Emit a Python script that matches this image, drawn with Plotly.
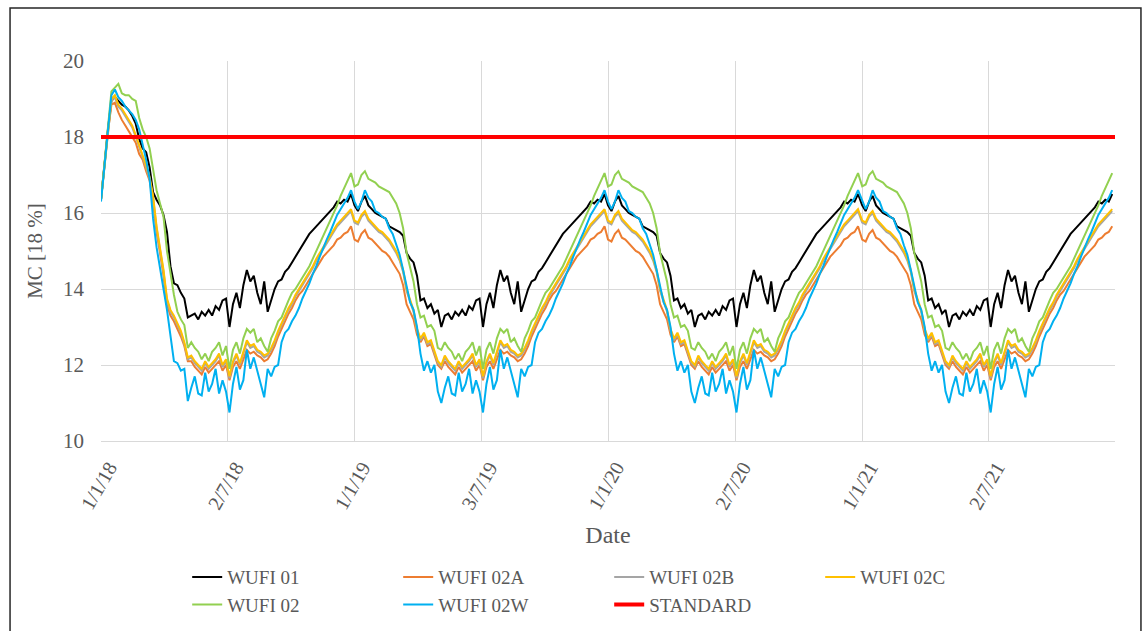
import pandas as pd
import plotly.graph_objects as go

# Moisture content (MC, %) sampled every 5 days through each year.
STEP_DAYS = 5
YEARS = [2018, 2019, 2020, 2021]

# Start-up period of 2018 (day 0 .. day 125), before the yearly cycle settles.
W01_2018_START = [16.35, 17.3, 18.2, 18.95, 19.05, 18.95, 18.85, 18.8, 18.7, 18.55,
                  18.35, 17.95, 17.7, 17.6, 17.2, 16.55, 16.35, 16.2, 15.95, 15.5,
                  14.6, 14.15, 14.1, 13.9, 13.75, 13.25]
W02A_2018_START = [16.35, 17.25, 18.15, 18.85, 18.9, 18.65, 18.45, 18.3, 18.15, 18.0,
                   17.85, 17.55, 17.4, 17.1, 16.85, 16.3, 15.5, 14.95, 14.35, 13.6,
                   13.3, 13.15, 12.95, 12.75, 12.5, 12.1]
W02B_2018_START = [16.35, 17.25, 18.2, 18.95, 19.05, 18.8, 18.7, 18.55, 18.4, 18.25,
                   18.0, 17.75, 17.5, 17.2, 16.9, 16.4, 15.6, 15.05, 14.45, 13.7,
                   13.4, 13.25, 13.05, 12.85, 12.55, 12.15]
W02C_2018_START = [16.35, 17.3, 18.25, 19.0, 19.1, 18.85, 18.75, 18.6, 18.45, 18.3,
                   18.05, 17.8, 17.55, 17.25, 16.95, 16.45, 15.65, 15.1, 14.5, 13.75,
                   13.45, 13.3, 13.1, 12.9, 12.6, 12.2]
W02_2018_START = [16.35, 17.35, 18.4, 19.2, 19.3, 19.4, 19.15, 19.1, 19.1, 19.0,
                  18.95, 18.5, 18.2, 18.0, 17.7, 17.2, 16.6, 16.25, 15.9, 15.0,
                  14.4, 13.85, 13.4, 13.2, 13.05, 12.45]
W02W_2018_START = [16.3, 17.3, 18.3, 19.1, 19.25, 19.05, 18.95, 18.8, 18.7, 18.6,
                   18.45, 18.2, 17.8, 17.4, 16.9, 15.85, 15.1, 14.5, 14.0, 13.45,
                   12.75, 12.1, 12.05, 11.85, 11.9, 11.05]

# Repeating yearly cycle (day 0 .. day 360 of each year).
W01_YEAR = [16.2, 16.05, 16.3, 16.45, 16.2, 16.1, 16.0, 15.95, 15.9, 15.85,
            15.65, 15.6, 15.55, 15.5, 15.4, 14.95, 14.8, 14.7, 14.35, 13.7,
            13.75, 13.5, 13.6, 13.35, 13.45, 13.0, 13.3, 13.35, 13.2, 13.4,
            13.3, 13.45, 13.3, 13.55, 13.45, 13.7, 13.75, 13.0, 13.6, 13.9,
            13.5, 14.1, 14.5, 14.2, 14.35, 13.9, 13.6, 14.2, 13.4, 13.7,
            14.0, 14.2, 14.25, 14.45, 14.55, 14.7, 14.85, 15.0, 15.15, 15.3,
            15.45, 15.55, 15.65, 15.75, 15.85, 15.95, 16.05, 16.15, 16.3, 16.25,
            16.35, 16.3, 16.5]
W02A_YEAR = [15.3, 15.25, 15.45, 15.55, 15.35, 15.3, 15.2, 15.1, 15.0, 14.95,
             14.85, 14.7, 14.55, 14.4, 14.1, 13.6, 13.4, 13.2, 12.8, 12.6,
             12.75, 12.5, 12.55, 12.3, 12.0, 11.9, 12.1, 11.95, 11.85, 11.75,
             11.95, 11.8, 11.9, 12.0, 12.1, 11.85, 12.0, 11.6, 11.95, 12.1,
             11.9, 12.15, 12.4, 12.3, 12.35, 12.25, 12.2, 12.1, 12.15, 12.3,
             12.5, 12.75, 12.95, 13.15, 13.35, 13.5, 13.7, 13.85, 13.95, 14.1,
             14.25, 14.4, 14.55, 14.7, 14.85, 14.95, 15.05, 15.15, 15.3, 15.35,
             15.45, 15.5, 15.65]
W02B_YEAR = [15.75, 15.7, 15.9, 16.0, 15.8, 15.7, 15.6, 15.5, 15.45, 15.35,
             15.25, 15.1, 14.95, 14.75, 14.45, 13.95, 13.65, 13.4, 12.9, 12.65,
             12.8, 12.55, 12.6, 12.35, 12.05, 11.95, 12.2, 12.05, 11.95, 11.85,
             12.05, 11.9, 12.0, 12.1, 12.25, 11.95, 12.1, 11.65, 12.05, 12.25,
             12.0, 12.3, 12.6, 12.45, 12.5, 12.35, 12.3, 12.2, 12.25, 12.4,
             12.6, 12.85, 13.05, 13.25, 13.45, 13.6, 13.8, 13.95, 14.1, 14.25,
             14.4, 14.55, 14.75, 14.9, 15.05, 15.2, 15.35, 15.5, 15.65, 15.75,
             15.85, 15.95, 16.05]
W02C_YEAR = [15.8, 15.75, 15.95, 16.05, 15.85, 15.75, 15.65, 15.55, 15.5, 15.4,
             15.3, 15.15, 15.0, 14.8, 14.5, 14.0, 13.7, 13.45, 12.95, 12.7,
             12.85, 12.6, 12.65, 12.4, 12.1, 12.0, 12.25, 12.1, 12.0, 11.9,
             12.1, 11.95, 12.05, 12.15, 12.3, 12.0, 12.15, 11.7, 12.1, 12.3,
             12.05, 12.35, 12.65, 12.5, 12.55, 12.4, 12.35, 12.25, 12.3, 12.45,
             12.65, 12.9, 13.1, 13.3, 13.5, 13.65, 13.85, 14.0, 14.15, 14.3,
             14.45, 14.6, 14.8, 14.95, 15.1, 15.25, 15.4, 15.55, 15.7, 15.8,
             15.9, 16.0, 16.1]
W02_YEAR = [16.7, 16.75, 17.0, 17.1, 16.9, 16.85, 16.8, 16.7, 16.65, 16.6,
            16.55, 16.4, 16.25, 16.0, 15.6, 14.95, 14.6, 14.2, 13.6, 13.25,
            13.3, 13.0, 13.05, 12.9, 12.45, 12.4, 12.6, 12.45, 12.35, 12.15,
            12.3, 12.1, 12.35, 12.45, 12.6, 12.25, 12.5, 11.9, 12.4, 12.6,
            12.3, 12.7, 12.95, 12.85, 12.95, 12.6, 12.7, 12.5, 12.35, 12.7,
            12.9, 13.15, 13.25, 13.5, 13.7, 13.9, 14.0, 14.15, 14.3, 14.45,
            14.6, 14.8, 15.0, 15.2, 15.4, 15.6, 15.8, 16.0, 16.2, 16.45,
            16.65, 16.85, 17.05]
W02W_YEAR = [16.3, 16.1, 16.3, 16.6, 16.4, 16.3, 16.05, 16.0, 15.9, 15.85,
             15.6, 15.45, 15.15, 14.9, 14.5, 14.1, 13.65, 13.45, 13.0, 12.3,
             11.85, 12.1, 11.8, 12.0, 11.3, 11.0, 11.4, 11.7, 11.25, 11.2,
             11.8, 11.3, 11.5, 11.9, 11.25, 11.6, 11.3, 10.75, 11.5, 11.95,
             11.35, 11.6, 12.4, 11.9, 12.2, 11.85, 11.5, 11.15, 11.9, 11.7,
             11.95, 12.0, 12.6, 12.85, 12.95, 13.15, 13.3, 13.5, 13.75, 13.95,
             14.15, 14.4, 14.6, 14.85, 15.1, 15.3, 15.5, 15.75, 15.95, 16.1,
             16.25, 16.4, 16.6]

STANDARD_DATES = ["2018-01-01", "2021-12-31"]
STANDARD_MC = [18, 18]

TICK_LABELS = ["1/1/18", "2/7/18", "1/1/19", "3/7/19", "1/1/20", "2/7/20", "1/1/21", "2/7/21"]
TICK_SPACING_DAYS = 182.625

SERIES = [
    ("WUFI 01", W01_2018_START, W01_YEAR, "#000000"),
    ("WUFI 02A", W02A_2018_START, W02A_YEAR, "#ED7D31"),
    ("WUFI 02B", W02B_2018_START, W02B_YEAR, "#A5A5A5"),
    ("WUFI 02C", W02C_2018_START, W02C_YEAR, "#FFC000"),
    ("WUFI 02", W02_2018_START, W02_YEAR, "#92D050"),
    ("WUFI 02W", W02W_2018_START, W02W_YEAR, "#00B0F0"),
]


def year_dates(year, n):
    start = pd.Timestamp(year=year, month=1, day=1)
    return [start + pd.Timedelta(days=STEP_DAYS * i) for i in range(n)]


def build_series(start_2018, cycle):
    values = start_2018 + cycle[len(start_2018):]
    for _ in YEARS[1:]:
        values = values + cycle
    return values


dates = []
for y in YEARS:
    dates += year_dates(y, len(W01_YEAR))

FONT = "Liberation Serif"
TEXT = "#595959"
GRID = "#D9D9D9"

fig = go.Figure()
for name, start, cycle, color in SERIES:
    fig.add_trace(go.Scatter(x=dates, y=build_series(start, cycle), name=name, mode="lines",
                             line=dict(color=color, width=2)))
fig.add_trace(go.Scatter(x=STANDARD_DATES, y=STANDARD_MC, name="STANDARD", mode="lines",
                         line=dict(color="#FF0000", width=4)))

origin = pd.Timestamp("2018-01-01")
tick_vals = [origin + pd.Timedelta(days=TICK_SPACING_DAYS * k) for k in range(len(TICK_LABELS))]

fig.update_layout(
    width=1143, height=631,
    margin=dict(l=101, r=28, t=61, b=190, autoexpand=False),
    paper_bgcolor="white", plot_bgcolor="white",
    font=dict(family=FONT, color=TEXT, size=19),
    showlegend=True,
    legend=dict(orientation="h", x=0.085, y=-0.308, xanchor="left", yanchor="top",
                font=dict(family=FONT, color=TEXT, size=19),
                entrywidth=166, tracegroupgap=0, traceorder="normal"),
    shapes=[dict(type="rect", xref="paper", yref="paper",
                 x0=-0.0897, x1=1.0256, y0=-0.62, y1=1.1395,
                 line=dict(color="#262626", width=1.5), fillcolor="rgba(0,0,0,0)", layer="below")],
)
fig.update_xaxes(
    range=["2018-01-01", "2021-12-31"],
    tickmode="array", tickvals=tick_vals, ticktext=TICK_LABELS,
    tickangle=-60, tickfont=dict(family=FONT, color=TEXT, size=20),
    showgrid=True, gridcolor=GRID, gridwidth=1,
    showline=True, linecolor=GRID, linewidth=1, zeroline=False,
    ticks="", ticklabelstandoff=6, ticklabelshift=8,
    title=dict(text="Date", font=dict(family=FONT, color=TEXT, size=24), standoff=13),
)
fig.update_yaxes(
    range=[10, 20], tickmode="linear", tick0=10, dtick=2,
    tickfont=dict(family=FONT, color=TEXT, size=21),
    showgrid=True, gridcolor=GRID, gridwidth=1,
    showline=False, zeroline=False, ticks="", ticklabelstandoff=16,
    title=dict(text="MC [18 %]", font=dict(family=FONT, color=TEXT, size=21), standoff=14),
)

fig.write_html("out.html")
